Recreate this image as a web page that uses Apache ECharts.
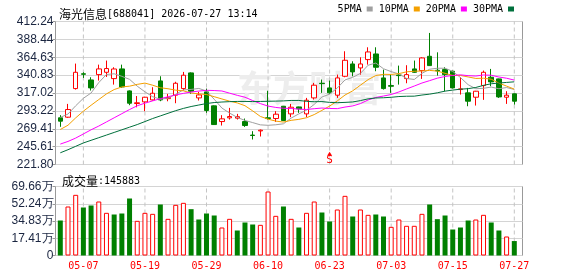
<!DOCTYPE html>
<html><head><meta charset="utf-8">
<script src="https://cdn.jsdelivr.net/npm/echarts@6/dist/echarts.min.js"></script>
<style>html,body{margin:0;padding:0;background:#fff}#c{width:578px;height:276px}</style>
</head><body><div id="c"></div>
<script>
const dates = ['04-29','04-30','05-06','05-07','05-08','05-11','05-12','05-13','05-14','05-15',
'05-18','05-19','05-20','05-21','05-22','05-25','05-26','05-27','05-28','05-29',
'06-01','06-02','06-03','06-04','06-05','06-08','06-09','06-10','06-11','06-12',
'06-15','06-16','06-17','06-18','06-22','06-23','06-24','06-25','06-26','06-29',
'06-30','07-01','07-02','07-03','07-06','07-07','07-08','07-09','07-10','07-13',
'07-14','07-15','07-16','07-17','07-20','07-21','07-22','07-23','07-24','07-27'];
const opens = [284,284.8,322.9,342.6,334.4,341.5,344.6,336.2,349.1,319.8,
303.0,305.2,307.8,333.1,309.5,314.1,322.9,343.8,310.5,318.5,
299.9,279.0,283.9,283.5,279.0,261,266.5,284,283.0,299.4,
289.2,298.5,289.2,310.5,330.0,323.8,314.1,339.3,355.7,350.4,
361.5,369.0,337.1,326.9,341.0,336.2,349.1,346.9,365.9,347.3,
348.2,346.0,321.6,317.2,311.4,326.9,338.0,335.8,311.4,315.9];
const closes = [279.5,295.0,344.6,342.0,323.8,349.1,349.6,349.0,325.1,303.4,
304.0,311.4,316.7,307.8,311.0,330.0,340.7,319.4,314.5,293.7,
275.0,282.6,285.7,285.5,273.7,260.4,267.5,283,288.8,280.4,
298.1,295.9,307.4,327.4,329.5,317.2,337.1,360.6,345.1,355.7,
371.7,351.3,322.9,326.0,340.2,341.5,344.6,363.7,353.5,346.5,
341.5,323.8,322.5,306.1,319.4,344.6,331.8,311.8,314.1,306.1];
const lows = [272,283.9,321.6,337.1,320.3,333.6,338.4,328.2,324,300.8,
298,292.8,307.0,306.1,306,303.4,320.3,315.9,307,290.6,
274.5,273.7,281.7,281.7,271.9,255.1,259.1,281.7,278.6,279.5,
284.8,290.6,284.8,308.3,317.2,315.9,310.5,338.0,339.3,341.5,
354.8,346.0,321.6,317.2,328.2,330.0,343.8,335.8,353,340.2,
319.4,323,314.9,299.4,300.3,307.9,326.0,310.5,302.5,301.6];
const highs = [287.5,302.5,356.2,344.6,338.0,354.8,360.2,351.3,354.8,320.5,
313,312,324.7,339.3,315.8,332,345.1,344.5,318.5,322.9,
300.5,287.5,297.2,289.2,283.0,266.2,268.4,320,292.8,299.8,
302.5,298.9,310.5,330.5,334.9,333.6,341.5,372.6,359.3,364.6,
377.9,377.9,348.2,341.5,353.5,354.0,360.2,364.6,397.0,371.2,
351.3,346.9,338.0,323.8,319.8,346.9,349.1,336.2,319.4,316.3];
const ma5 = [284.5,289,300,310,317.0,330.9,341.7,342.6,339.2,335.2,
326.1,318.6,312.1,308.7,310.2,315.4,321.2,321.8,323.1,319.7,
308.7,297.0,290.3,284.5,280.5,277.6,274.6,274.0,274.7,276.0,
283.6,289.2,294.1,301.8,311.7,315.5,323.7,334.4,337.9,343.1,
354.0,356.9,349.3,345.5,342.4,336.4,335.0,343.2,348.7,350.0,
350.0,345.8,337.6,328.1,322.7,323.3,324.9,322.7,324.3,321.7];
const ma10 = [268.4,274.1,283.9,292.8,300.7,308.3,315.8,321.6,325.1,326.1,
328.5,330.2,327.4,324.0,322.7,320.8,319.9,317.0,315.9,315.0,
312.1,309.1,306.1,303.8,300.1,293.2,285.8,282.2,279.6,278.3,
280.6,281.9,284.1,288.3,293.9,299.6,306.5,314.3,319.9,327.4,
334.8,340.3,341.9,341.7,342.8,345.2,346.0,346.3,347.1,346.2,
343.2,340.4,340.4,338.4,336.4,336.7,335.4,330.2,326.2,322.2];
const ma20 = [249,252.5,257,262.5,268,273,278.5,284,289.5,295,
300,303.5,306.5,309.5,312,314.5,316.5,318.3,319.6,320.6,
320.3,319.7,316.8,313.9,311.4,307.0,302.9,299.6,297.8,296.7,
296.4,295.5,295.1,296.1,297.0,296.4,296.2,298.3,299.8,302.9,
307.7,311.1,313.0,315.0,318.4,322.4,326.3,330.3,333.5,336.8,
339.0,340.4,341.2,340.1,339.6,341.0,340.7,338.3,336.7,334.2];
const ma30 = [237.4,241.5,246,250.5,254,257.5,261,264.5,268,271.5,
275,279,283,286.5,290,293.5,296.5,299,301,303,
304.3,305,305.5,305.8,305.8,305.6,305.8,306,306.2,306.5,
307.1,307.1,305.9,305.4,305.6,304.5,304.1,304.5,305.1,306.9,
309.2,310.4,310.7,311.3,312.3,312.7,312.8,314.3,315.5,317.3,
319.5,320.9,322.1,322.8,324.4,327.2,329.3,330.3,331.1,331.9];
const volumes = [353350,494680,612470,484590,504780,545160,430750,413920,424020,575450,
349980,430750,420650,514880,370170,511500,531700,467760,363440,424020,
403820,282680,370170,252390,333150,312960,309600,646120,400450,494680,
370170,282680,430750,545160,434110,343250,464400,602350,393730,464400,
410550,413920,393730,289420,363440,299840,299840,420650,514880,366800,
403820,262490,282680,353350,363440,410550,333150,252390,191820,145883];
const volumeUp = [0,1,1,0,0,1,1,0,0,0, 1,1,1,0,1,1,1,0,0,0,
0,1,1,0,0,0,1,1,1,0, 1,0,1,1,0,0,1,1,0,1,
1,0,0,1,1,1,1,1,0,0, 0,0,0,0,1,1,0,0,1,0];
const priceTicks = ['221.80','245.61','269.41','293.22','317.02','340.83','364.63','388.44','412.24'];
const volumeTicks = ['0','17.41万','34.83万','52.24万','69.66万'];
const maNames = ['5PMA','10PMA','20PMA','30PMA'];
const stockTitle = '海光信息';
const stockCode = '[688041] 2026-07-27 13:14';
const signalDate = '06-23', signalText = 'S', signalPrice = 227.5;

const priceMin = parseFloat(priceTicks[0]), priceMax = parseFloat(priceTicks[priceTicks.length-1]);
const volumeMax = parseFloat(volumeTicks[volumeTicks.length-1]) * 10000;
const maData = [ma5, ma10, ma20, ma30];
const maColors = ['#a0a0a0', '#f4a000', '#ff00ff', '#00703c'];
const MONO = 'DejaVu Sans Mono';
const labelPick = (i) => i % 8 === 3;
const markedIdx = dates.map((d, i) => i).filter(labelPick);

const chart = echarts.init(document.getElementById('c'), null, {renderer: 'canvas'});
const FRAME = {left: 55.5, width: 467};
const INNER = {left: 56.45, width: 461.7};
const MAIN = {top: 21.5, height: 143};
const VOL = {top: 186.5, height: 69};

function guideSeries(xi, yi, lo, hi) {
  const data = [];
  markedIdx.forEach((i) => { data.push([dates[i], lo], [dates[i], hi], [dates[i], null]); });
  return {type: 'line', name: 'guide' + xi, xAxisIndex: xi, yAxisIndex: yi, data: data, silent: true,
    showSymbol: false, symbol: 'none', connectNulls: false, z: 1, animation: false,
    lineStyle: {color: '#c4c4c4', width: 1, type: [4, 3]}, emphasis: {disabled: true}, tooltip: {show: false}};
}

const rich = {cn: {fontFamily: 'Noto Sans CJK SC', fontSize: 12, color: '#000', fontWeight: 'normal'},
              en: {fontFamily: MONO, fontSize: 10, color: '#000', fontWeight: 'normal'}};

const option = {
  animation: false,
  backgroundColor: '#fff',
  title: [
    {left: 54, top: 3, text: '{cn|' + stockTitle + '}{en|' + stockCode + '}', textStyle: {fontWeight: 'normal', rich: rich}},
    {left: 57, top: 170, text: '{cn|成交量}{en|:' + volumes[volumes.length-1] + '}', textStyle: {fontWeight: 'normal', rich: rich}}
  ],
  legend: {data: maNames, right: 64, top: 4, itemWidth: 6, itemHeight: 5, itemGap: 6, align: 'right',
    icon: 'rect', selectedMode: false, padding: 0,
    textStyle: {fontFamily: MONO, fontSize: 10, color: '#000'}},
  graphic: [{type: 'text', left: 237, top: 70, z: 1, silent: true,
    style: {text: '东方财富', font: 'bold 36px "Noto Sans CJK SC"', fill: '#ededed'}}],
  grid: [
    {left: FRAME.left, width: FRAME.width, top: MAIN.top, height: MAIN.height, show: true, borderColor: '#999', borderWidth: 1},
    {left: INNER.left, width: INNER.width, top: MAIN.top, height: MAIN.height},
    {left: FRAME.left, width: FRAME.width, top: VOL.top, height: VOL.height, show: true, borderColor: '#999', borderWidth: 1},
    {left: INNER.left, width: INNER.width, top: VOL.top, height: VOL.height}
  ],
  xAxis: [
    {gridIndex: 0, type: 'value', min: 0, max: 1, show: false},
    {gridIndex: 1, type: 'category', data: dates, boundaryGap: true,
     axisLine: {show: false}, axisTick: {show: false}, axisLabel: {show: false}, splitLine: {show: false}},
    {gridIndex: 2, type: 'value', min: 0, max: 1, show: false},
    {gridIndex: 3, type: 'category', data: dates, boundaryGap: true,
     axisLine: {show: false}, axisTick: {show: false},
     axisLabel: {show: true, interval: labelPick, color: '#ff0000', fontFamily: MONO, fontSize: 10, margin: 6},
     splitLine: {show: false}}
  ],
  yAxis: [
    {gridIndex: 0, type: 'value', min: 0, max: priceTicks.length - 1, interval: 1,
     axisLine: {show: false}, axisTick: {show: true, length: 3, lineStyle: {color: '#999'}},
     axisLabel: {formatter: (v) => priceTicks[v], color: '#1a2540', fontFamily: 'Liberation Sans', fontSize: 12, margin: 2},
     splitLine: {show: true, lineStyle: {color: '#d4d4d4', width: 1}}},
    {gridIndex: 1, type: 'value', min: priceMin, max: priceMax, show: false},
    {gridIndex: 2, type: 'value', min: 0, max: volumeTicks.length - 1, interval: 1,
     axisLine: {show: false}, axisTick: {show: true, length: 3, lineStyle: {color: '#999'}},
     axisLabel: {formatter: (v) => volumeTicks[v], color: '#1a2540', fontFamily: 'Liberation Sans', fontSize: 12, margin: 2},
     splitLine: {show: true, lineStyle: {color: '#d4d4d4', width: 1}}},
    {gridIndex: 3, type: 'value', min: 0, max: volumeMax, show: false}
  ],
  series: [
    guideSeries(1, 1, priceMin, priceMax),
    guideSeries(3, 3, 0, volumeMax),
    {type: 'candlestick', name: 'K', xAxisIndex: 1, yAxisIndex: 1, barWidth: 5, z: 3,
     data: dates.map((d, i) => [opens[i], closes[i], lows[i], highs[i]]),
     itemStyle: {color: '#ffffff', color0: '#008000', borderColor: '#ff0000', borderColor0: '#008000', borderWidth: 1},
     markPoint: {silent: true, animation: false, data: [
       {coord: [signalDate, signalPrice + 8.5], symbol: 'triangle', symbolSize: [5, 4], itemStyle: {color: '#ff0000'}, label: {show: false}},
       {coord: [signalDate, signalPrice], symbol: 'rect', symbolSize: 1, itemStyle: {color: 'rgba(0,0,0,0)'},
        label: {show: true, position: 'inside', formatter: signalText, color: '#ff0000', fontFamily: MONO, fontSize: 11}}
     ]}}
  ].concat(maNames.map((n, k) => ({
    type: 'line', name: n, xAxisIndex: 1, yAxisIndex: 1, data: maData[k], showSymbol: false, symbol: 'none',
    z: 4, color: maColors[k], lineStyle: {color: maColors[k], width: 1}, itemStyle: {color: maColors[k]}
  }))).concat([
    {type: 'bar', name: 'VOL', xAxisIndex: 3, yAxisIndex: 3, barWidth: 5, z: 3,
     data: volumes.map((v, i) => ({value: v, itemStyle: volumeUp[i]
        ? {color: '#ffffff', borderColor: '#ff0000', borderWidth: 1}
        : {color: '#008000', borderColor: '#008000', borderWidth: 0}}))}
  ])
};
chart.setOption(option);
</script></body></html>
